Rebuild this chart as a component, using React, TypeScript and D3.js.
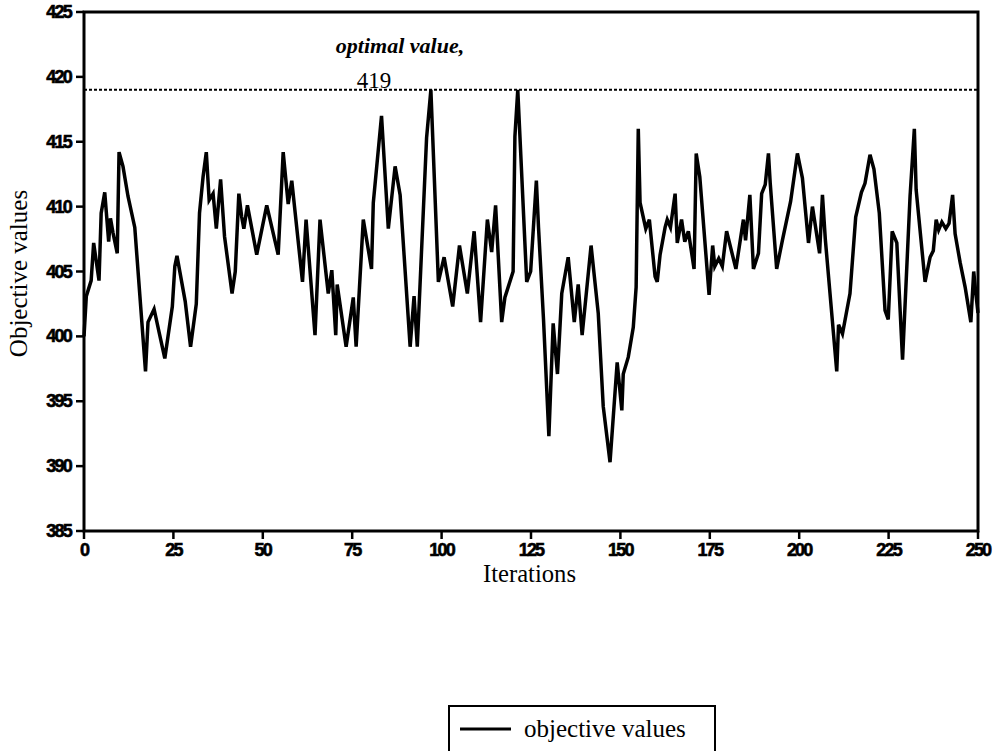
import React from "react";
import * as d3 from "d3";

// Iteration index of each vertex of the objective-value trace
const iterations = [
  0, 0.65, 2, 2.7, 4.2, 4.8, 5.8, 6.9, 7.4, 8.1, 9.3, 9.8, 10.9, 12.3, 14.2, 17.2, 17.9, 19.6, 21.1, 22.6,
  24.7, 25.4, 26, 28.3, 29.8, 31.4, 32.3, 33.3, 34.2, 35, 36.1, 37, 38.2, 39.3, 41.4, 42.3, 43.3, 44.1, 44.7, 45.7,
  48.3, 51.1, 54.3, 55.7, 57.1, 58.1, 61.1, 62.1, 64.6, 66, 68.3, 69.3, 70.4, 70.8, 73.3, 75.3, 76.1, 78.1, 80.4, 80.9,
  83.2, 85.1, 87, 88.4, 91.2, 92.3, 93.2, 95.8, 97, 99.1, 100.7, 103.1, 105, 107.2, 109.1, 110.9, 112.8, 114, 115.1, 116.8,
  117.7, 120, 120.5, 121.3, 123.8, 124.9, 126.5, 127.1, 128.5, 130, 131.2, 132.4, 133.6, 135.4, 137.1, 138.2, 139.3, 141.8, 143.8, 145.2,
  147.1, 149.1, 150.4, 150.8, 152.2, 153.6, 154.4, 155, 155.5, 157.1, 158.1, 159.7, 160.3, 161.1, 162.5, 163.1, 164, 165.3, 165.9, 167.1,
  168, 169, 170.6, 171.2, 172.2, 174.8, 175.8, 176.4, 177.5, 178.5, 179.7, 182.3, 184.4, 185, 186.2, 187.2, 188.6, 189.5, 190.5, 191.4,
  191.9, 193.7, 195.3, 197.6, 199.5, 200.9, 202.6, 203.7, 205.7, 206.5, 207.3, 210.5, 211, 212.1, 214.2, 215.8, 217.4, 218.4, 219.8, 220.9,
  222.4, 224, 224.9, 226, 227.3, 228.9, 231, 232.2, 232.7, 235.2, 236.6, 237.5, 238.3, 239, 239.9, 241, 241.9, 242.9, 243.6, 245,
  246.4, 248, 248.8, 249.4, 250,
];

// Objective value at each vertex
const objectiveValues = [
  400, 403.1, 404.3, 407.2, 404.3, 409.5, 411.1, 407.3, 409.1, 408, 406.4, 414.2, 413.1, 410.8, 408.4, 397.3, 401.1, 402.1, 400.2, 398.3,
  402.3, 405.4, 406.2, 402.7, 399.2, 402.5, 409.5, 412.3, 414.2, 410.5, 411, 408.3, 412.1, 407.7, 403.3, 405, 411, 409.2, 408.3, 410.1,
  406.3, 410.1, 406.3, 414.2, 410.2, 412, 404.2, 409, 400.1, 409, 403.3, 405.1, 400.1, 404, 399.2, 403, 399.2, 409, 405.2, 410.3,
  417, 408.3, 413.1, 410.9, 399.2, 403.1, 399.2, 415.3, 419, 404.2, 406.1, 402.3, 407, 403.3, 408.1, 401.1, 409, 406.5, 410.1, 401.1,
  403, 405, 415.4, 419, 404.2, 405, 412, 408.4, 401.3, 392.3, 401, 397.1, 403.3, 406.1, 401.1, 404, 400.1, 407, 401.8, 394.6,
  390.3, 398, 394.3, 397.1, 398.4, 400.7, 403.8, 416, 410.3, 408.3, 409, 404.6, 404.2, 406.3, 408.4, 409, 408.4, 411, 407.2, 409,
  407.3, 408.1, 405.2, 414.1, 412.3, 403.2, 407, 405.4, 406, 405.4, 408.1, 405.2, 409, 407.4, 410.9, 405.2, 406.4, 411, 411.7, 414.1,
  411.8, 405.2, 407.4, 410.4, 414.1, 412.2, 407.2, 410, 406.4, 410.9, 407.5, 397.3, 400.9, 400.2, 403.3, 409.2, 411.1, 411.8, 414, 412.9,
  409.5, 402, 401.3, 408.1, 407.2, 398.2, 410.8, 416, 411.3, 404.2, 406.1, 406.6, 409, 408.2, 408.8, 408.3, 408.7, 410.9, 407.9, 405.7,
  403.8, 401.1, 405, 403.3, 401.8,
];

const xTicks = [0, 25, 50, 75, 100, 125, 150, 175, 200, 225, 250];
const yTicks = [385, 390, 395, 400, 405, 410, 415, 420, 425];
const optimalValue = 419;

const W = 999;
const H = 751;
const plot = { left: 84, right: 978, top: 12, bottom: 531 };

const tickFont = "'Liberation Sans', Arial, sans-serif";
const serif = "'Liberation Serif', 'Times New Roman', serif";

export default function App() {
  const x = d3.scaleLinear().domain([0, 250]).range([plot.left, plot.right]);
  const y = d3.scaleLinear().domain([385, 425]).range([plot.bottom, plot.top]);

  const points: [number, number][] = iterations.map((it, i) => [it, objectiveValues[i]]);
  const line = d3
    .line<[number, number]>()
    .x((d) => x(d[0]))
    .y((d) => y(d[1]));

  return (
    <svg
      width={W}
      height={H}
      viewBox={`0 0 ${W} ${H}`}
      style={{ position: "absolute", left: 0, top: 0, background: "#fff" }}
    >
      <rect x={0} y={0} width={W} height={H} fill="#fff" />

      {/* optimum reference line */}
      <line
        x1={plot.left}
        x2={plot.right}
        y1={y(optimalValue)}
        y2={y(optimalValue)}
        stroke="#000"
        strokeWidth={2}
        strokeDasharray="3 2"
      />
      <text
        x={400}
        y={53}
        textAnchor="middle"
        fontFamily={serif}
        fontStyle="italic"
        fontWeight="bold"
        fontSize={22}
      >
        optimal value,
      </text>
      <text x={374} y={88} textAnchor="middle" fontFamily={serif} fontSize={23}>
        {optimalValue}
      </text>

      {/* objective trace */}
      <path d={line(points) ?? ""} fill="none" stroke="#000" strokeWidth={3.5} strokeLinejoin="miter" strokeMiterlimit={4} />

      {/* frame */}
      <rect
        x={plot.left}
        y={plot.top}
        width={plot.right - plot.left}
        height={plot.bottom - plot.top}
        fill="none"
        stroke="#000"
        strokeWidth={3}
      />

      {/* y axis ticks */}
      {yTicks.map((t) => (
        <g key={`y${t}`}>
          <line x1={plot.left - 8} x2={plot.left} y1={y(t)} y2={y(t)} stroke="#000" strokeWidth={2.5} />
          <text
            x={plot.left - 13}
            y={y(t) + 6}
            textAnchor="end"
            fontFamily={tickFont}
            fontWeight={900}
            fontSize={18}
            letterSpacing={-1.8}
            stroke="#000"
            strokeWidth={0.6}
          >
            {t}
          </text>
        </g>
      ))}

      {/* x axis ticks */}
      {xTicks.map((t) => (
        <g key={`x${t}`}>
          <line x1={x(t)} x2={x(t)} y1={plot.bottom} y2={plot.bottom + 8} stroke="#000" strokeWidth={2.5} />
          <text
            x={x(t)}
            y={plot.bottom + 25}
            textAnchor="middle"
            fontFamily={tickFont}
            fontWeight={900}
            fontSize={18}
            letterSpacing={-1.8}
            stroke="#000"
            strokeWidth={0.6}
          >
            {t}
          </text>
        </g>
      ))}

      <text
        x={483}
        y={582}
        fontFamily={serif}
        fontSize={26}
        textLength={93}
        lengthAdjust="spacingAndGlyphs"
      >
        Iterations
      </text>
      <text
        transform={`translate(27, ${(plot.top + plot.bottom) / 2 + 2}) rotate(-90)`}
        textAnchor="middle"
        fontFamily={serif}
        fontSize={25}
      >
        Objective values
      </text>

      {/* legend */}
      <rect x={449} y={706} width={266} height={60} fill="#fff" stroke="#000" strokeWidth={2} />
      <line x1={460} x2={511} y1={729} y2={729} stroke="#000" strokeWidth={3} />
      <text x={524} y={737} fontFamily={serif} fontSize={25}>
        objective values
      </text>
    </svg>
  );
}
